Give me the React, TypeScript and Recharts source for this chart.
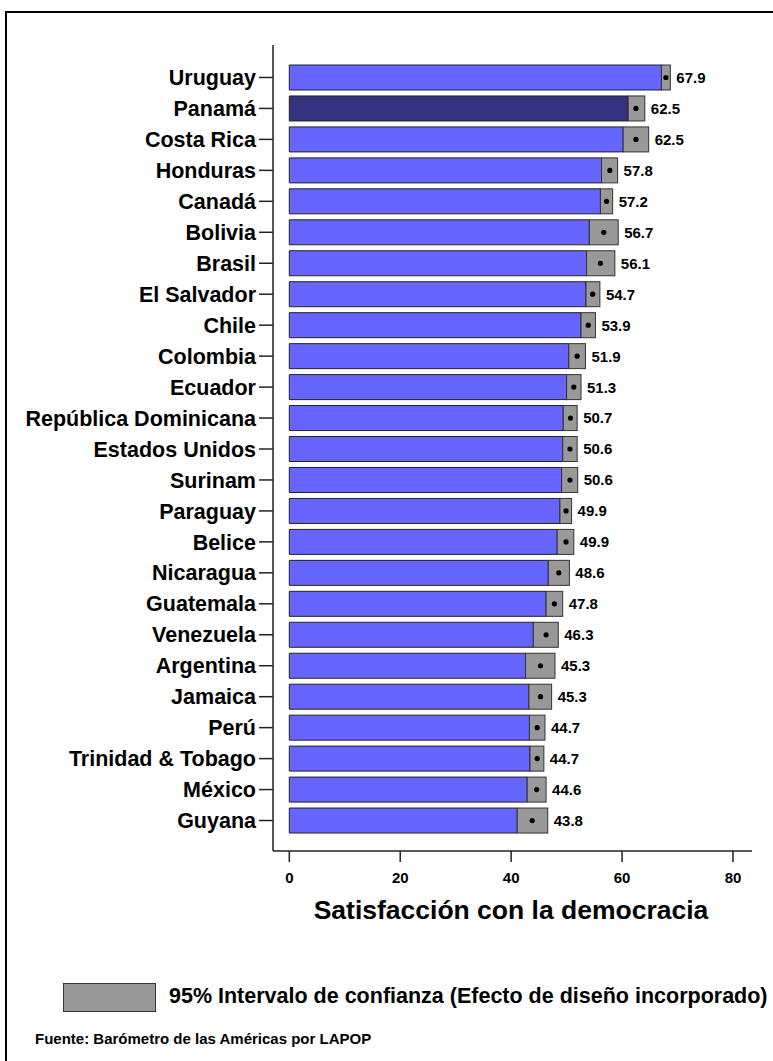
import { BarChart, Bar, XAxis, YAxis, Cell } from 'recharts';

const countries = [
  'Uruguay', 'Panamá', 'Costa Rica', 'Honduras', 'Canadá', 'Bolivia', 'Brasil',
  'El Salvador', 'Chile', 'Colombia', 'Ecuador', 'República Dominicana',
  'Estados Unidos', 'Surinam', 'Paraguay', 'Belice', 'Nicaragua', 'Guatemala',
  'Venezuela', 'Argentina', 'Jamaica', 'Perú', 'Trinidad & Tobago', 'México', 'Guyana',
];
const means = [67.9, 62.5, 62.5, 57.8, 57.2, 56.7, 56.1, 54.7, 53.9, 51.9, 51.3, 50.7, 50.6, 50.6, 49.9, 49.9, 48.6, 47.8, 46.3, 45.3, 45.3, 44.7, 44.7, 44.6, 43.8];
const lowers = [67.1, 61.1, 60.2, 56.3, 56.1, 54.1, 53.6, 53.5, 52.6, 50.4, 50.0, 49.4, 49.3, 49.1, 48.8, 48.3, 46.7, 46.3, 44.0, 42.6, 43.2, 43.3, 43.4, 42.9, 41.1];
const uppers = [68.7, 64.1, 64.8, 59.2, 58.3, 59.3, 58.7, 56.0, 55.2, 53.4, 52.6, 51.9, 51.9, 52.0, 50.9, 51.3, 50.5, 49.3, 48.5, 47.9, 47.3, 46.1, 45.9, 46.3, 46.6];
const xTicks = [0, 20, 40, 60, 80];
const highlight = 'Panamá';

const data = countries.map((country, i) => ({
  country,
  mean: means[i],
  lower: lowers[i],
  upper: uppers[i],
  ci: +(uppers[i] - lowers[i]).toFixed(2),
}));

const FONT = '"Liberation Sans", Arial, sans-serif';

// caja gris del intervalo + punto en la media + etiqueta del valor
function CiShape(props: any) {
  const { x, y, width, height, payload } = props;
  const perUnit = width / (payload.upper - payload.lower);
  const cx = x + (payload.mean - payload.lower) * perUnit;
  const cy = y + height / 2;
  return (
    <g>
      <rect x={x} y={y} width={width} height={height} fill="#999999" stroke="#333333" strokeWidth={1} />
      <circle cx={cx} cy={cy} r={2.6} fill="#000" />
      <text x={x + width + 6} y={cy} dy="0.36em" fontSize={15} fontWeight="bold" fontFamily={FONT} fill="#000">
        {payload.mean.toFixed(1)}
      </text>
    </g>
  );
}

export default function App() {
  return (
    <div style={{ position: 'absolute', left: 0, top: 0, width: 773, height: 1061, background: '#fff', overflow: 'hidden', fontFamily: FONT }}>
      <div style={{ position: 'absolute', left: 5, top: 11, width: 800, height: 1100, borderTop: '2px solid #000', borderLeft: '2px solid #000' }} />
      <div style={{ position: 'absolute', left: 0, top: 0 }}>
        <BarChart
          width={773}
          height={900}
          data={data}
          layout="vertical"
          margin={{ top: 45, right: 21, left: 0, bottom: 9 }}
          barSize={25}
        >
          <XAxis
            type="number"
            domain={[-2.94, 83.43]}
            ticks={xTicks}
            allowDataOverflow
            stroke="#222"
            strokeWidth={1.5}
            tickSize={11}
            tickMargin={10}
            height={40}
            tick={{ fontSize: 15, fontWeight: 'bold', fill: '#000', fontFamily: FONT }}
          />
          <YAxis
            type="category"
            dataKey="country"
            width={273}
            stroke="#222"
            strokeWidth={1.5}
            tickSize={14}
            tickMargin={3}
            interval={0}
            padding={{ top: 17, bottom: 15 }}
            tick={{ fontSize: 21.5, fontWeight: 'bold', fill: '#000', fontFamily: FONT }}
          />
          <Bar dataKey="lower" stackId="a" stroke="#222" strokeWidth={1} isAnimationActive={false}>
            {data.map((d) => (
              <Cell key={d.country} fill={d.country === highlight ? '#333380' : '#6666FF'} />
            ))}
          </Bar>
          <Bar dataKey="ci" stackId="a" shape={CiShape} isAnimationActive={false} />
        </BarChart>
      </div>
      <div style={{ position: 'absolute', left: 289, width: 444, top: 895, textAlign: 'center', fontSize: 26.5, fontWeight: 'bold', whiteSpace: 'nowrap' }}>
        Satisfacción con la democracia
      </div>
      <div style={{ position: 'absolute', left: 63, top: 983, width: 91, height: 27, background: '#999999', border: '1px solid #333' }} />
      <div style={{ position: 'absolute', left: 169, top: 984, fontSize: 21.5, fontWeight: 'bold', whiteSpace: 'nowrap' }}>
        95% Intervalo de confianza (Efecto de diseño incorporado)
      </div>
      <div style={{ position: 'absolute', left: 35, top: 1030, fontSize: 15, fontWeight: 'bold', whiteSpace: 'nowrap' }}>
        Fuente: Barómetro de las Américas por LAPOP
      </div>
    </div>
  );
}
